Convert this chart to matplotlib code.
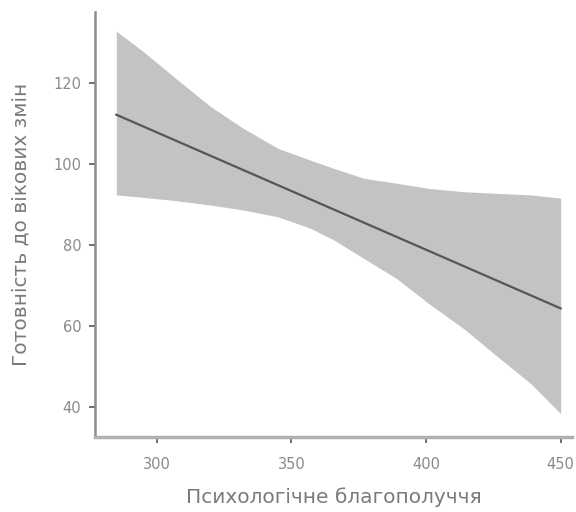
import matplotlib
matplotlib.use("Agg")
import matplotlib.pyplot as plt

plt.rcParams['font.family'] = ['DejaVu Sans']

# fitted line (end points)
line_x = [285, 450]
line_y = [112.2, 64.4]

# confidence band
band_x = [285, 295, 307, 320, 332, 345, 357, 366, 377, 389, 401, 414, 426, 439, 450]
band_upper = [132.8, 127.8, 121.2, 114.2, 108.9, 103.9, 101.0, 98.9, 96.5, 95.3,
              94.0, 93.2, 92.8, 92.4, 91.6]
band_lower = [92.4, 91.8, 91.0, 89.9, 88.7, 87.0, 84.2, 81.2, 76.7, 71.8,
              65.6, 59.4, 52.8, 45.8, 38.4]

x_ticks = [300, 350, 400, 450]
y_ticks = [40, 60, 80, 100, 120]
x_label = "Психологічне благополуччя"
y_label = "Готовність до вікових змін"

fig = plt.figure(figsize=(5.76, 5.12), dpi=100)
ax = fig.add_axes([0.165, 0.146, 0.828, 0.831])

ax.fill_between(band_x, band_lower, band_upper, color='#c3c3c3', linewidth=0)
ax.plot(line_x, line_y, color='#555555', linewidth=1.6)

ax.set_xlim(277.1, 454.2)
ax.set_ylim(32.6, 137.6)
ax.set_xticks(x_ticks)
ax.set_yticks(y_ticks)

for side in ['top', 'right']:
    ax.spines[side].set_visible(False)
ax.spines['left'].set_color('#8c8c8c')
ax.spines['left'].set_linewidth(1.8)
ax.spines['bottom'].set_color('#b0b0b0')
ax.spines['bottom'].set_linewidth(2.5)

ax.tick_params(axis='both', colors='#555555', length=4, width=1.2,
               labelcolor='#8a8a8a', labelsize=10.5)
ax.tick_params(axis='x', pad=10)
ax.tick_params(axis='y', pad=6)

ax.set_xlabel(x_label, fontsize=14.5, color='#7a7a7a', labelpad=11)
ax.set_ylabel(y_label, fontsize=14.5, color='#7a7a7a', labelpad=16)

fig.savefig("out.png", dpi=100)
